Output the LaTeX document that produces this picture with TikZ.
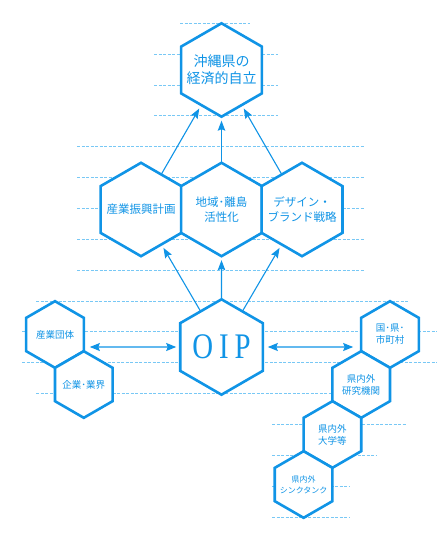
\documentclass[tikz,border=0pt]{standalone}
\usepackage{fontspec}
\newfontfamily\jp{Noto Sans CJK JP}
\newfontfamily\oipfont[FakeStretch=0.8]{Liberation Serif}
\usetikzlibrary{shapes.geometric,arrows.meta}
\definecolor{hexblue}{RGB}{16,148,230}
\definecolor{guideblue}{RGB}{120,200,245}
\tikzset{
  hexbox/.style={regular polygon,regular polygon sides=6,shape border rotate=30,
    draw=hexblue,fill=white,line width=2.6pt,inner sep=0pt,outer sep=0pt},
  bighex/.style={hexbox,minimum size=93.4pt},
  smallhex/.style={hexbox,minimum size=66.6pt},
  hexlabel/.style={text=hexblue,align=center,inner sep=0pt},
  toptext/.style={hexlabel,font=\jp\fontsize{14}{16.6}\selectfont},
  midtext/.style={hexlabel,font=\jp\fontsize{11.5}{14.7}\selectfont},
  smalltext/.style={hexlabel,font=\jp\fontsize{9.5}{12}\selectfont},
  tinytext/.style={hexlabel,font=\jp\fontsize{8}{10.7}\selectfont},
  arr/.style={hexblue,line width=1.1pt,shorten >=4pt,
    -{Stealth[length=10pt,width=7.5pt,inset=1.5pt]}},
  biarr/.style={hexblue,line width=1.1pt,
    {Stealth[length=10pt,width=8pt,inset=1.5pt]}-{Stealth[length=10pt,width=8pt,inset=1.5pt]}},
  guide/.style={guideblue,line width=0.6pt,dash pattern=on 3pt off 1.5pt}
}
\begin{document}
\begin{tikzpicture}[x=1pt,y=-1pt]
\useasboundingbox (0,0) rectangle (437,553);

\foreach \y/\xa/\xb in {23.3/180/250, 54.1/154/278, 85.0/154/278, 115.8/154/278,
  146.7/77/365, 177.5/77/365, 208.3/77/365, 239.2/77/365, 270.0/77/365,
  300.9/36/409, 331.7/22/437, 362.6/22/437, 393.4/36/340,
  424.2/272/406, 455.1/272/377, 485.9/272/349, 516.8/272/349}
  \draw[guide] (\xa,\y) -- (\xb,\y);

\node[bighex,label={[toptext]center:沖縄県の\\経済的自立}] (top) at (221.5,70) {};

\node[bighex,label={[midtext]center:産業振興計画}] (sangyo) at (141,209.5) {};
\node[bighex,label={[midtext]center:地域･離島\\活性化}] (chiiki) at (221.5,209.5) {};
\node[bighex,label={[midtext]center:デザイン・\\ブランド戦略}] (design) at (302,209.5) {};

\node[bighex,minimum size=94pt,text=hexblue,font=\oipfont\fontsize{36}{36}\selectfont] (oip) at (221.5,347) {O\kern6pt I\kern6pt P};

\node[smallhex,label={[smalltext]center:産業団体}] (dantai) at (55,334.5) {};
\node[smallhex,label={[smalltext]center:企業･業界}] (kigyo) at (83.8,384.5) {};

\node[smallhex,label={[smalltext]center:国･県･\\市町村}] (kuni) at (390,334.5) {};
\node[smallhex,label={[smalltext]center:県内外\\研究機関}] (kenkyu) at (361.2,384.5) {};
\node[smallhex,label={[smalltext]center:県内外\\大学等}] (daigaku) at (332.4,434.5) {};
\node[smallhex,label={[tinytext]center:県内外\\シンクタンク}] (think) at (303.6,484.5) {};

\draw[arr] (sangyo) -- (top);
\draw[arr] (chiiki) -- (top);
\draw[arr] (design) -- (top);
\draw[arr] (oip) -- (sangyo);
\draw[arr] (oip) -- (chiiki);
\draw[arr] (oip) -- (design);

\draw[biarr,shorten <=6pt,shorten >=4pt] (dantai.east |- oip.center) -- (oip.west);
\draw[biarr,shorten <=5pt,shorten >=8pt] (oip.east) -- (kuni.west |- oip.center);
\end{tikzpicture}
\end{document}
